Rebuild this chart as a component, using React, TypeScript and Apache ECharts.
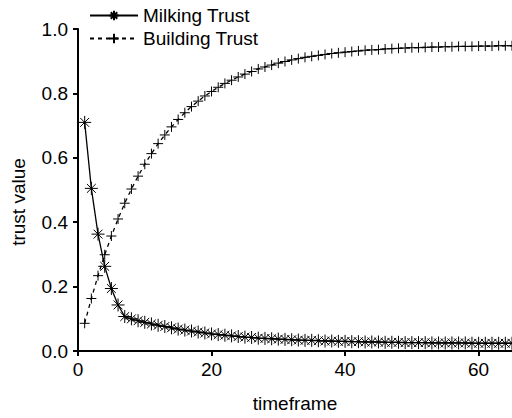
import React, { useEffect, useRef } from "react";
import * as echarts from "echarts";

const timeframe = [
  1, 2, 3, 4, 5, 6, 7, 8, 9, 10, 11, 12, 13, 14, 15, 16, 17, 18, 19, 20,
  21, 22, 23, 24, 25, 26, 27, 28, 29, 30, 31, 32, 33, 34, 35, 36, 37, 38, 39, 40,
  41, 42, 43, 44, 45, 46, 47, 48, 49, 50, 51, 52, 53, 54, 55, 56, 57, 58, 59, 60,
  61, 62, 63, 64, 65,
];

const milkingTrust = [
  0.71, 0.505, 0.363, 0.263, 0.194, 0.143, 0.107, 0.1, 0.094, 0.089,
  0.084, 0.08, 0.076, 0.072, 0.068, 0.065, 0.062, 0.059, 0.056, 0.053,
  0.051, 0.049, 0.047, 0.045, 0.043, 0.042, 0.04, 0.039, 0.038, 0.037,
  0.036, 0.035, 0.034, 0.033, 0.033, 0.032, 0.031, 0.031, 0.03, 0.03,
  0.029, 0.029, 0.028, 0.028, 0.028, 0.027, 0.027, 0.027, 0.026, 0.026,
  0.026, 0.026, 0.025, 0.025, 0.025, 0.025, 0.025, 0.025, 0.024, 0.024,
  0.024, 0.024, 0.024, 0.024, 0.024,
];

const buildingTrust = [
  0.086, 0.163, 0.234, 0.299, 0.357, 0.41, 0.459, 0.503, 0.543, 0.58,
  0.613, 0.644, 0.671, 0.696, 0.719, 0.74, 0.759, 0.776, 0.792, 0.806,
  0.819, 0.831, 0.841, 0.851, 0.86, 0.868, 0.876, 0.882, 0.888, 0.894,
  0.899, 0.904, 0.908, 0.912, 0.915, 0.918, 0.921, 0.924, 0.926, 0.928,
  0.93, 0.932, 0.934, 0.935, 0.936, 0.938, 0.939, 0.94, 0.941, 0.942,
  0.942, 0.943, 0.944, 0.944, 0.945, 0.945, 0.946, 0.946, 0.946, 0.947,
  0.947, 0.947, 0.948, 0.948, 0.948,
];

const seriesNames = ["Milking Trust", "Building Trust"];
const xTicks = [0, 20, 40, 60];
const yTicks = [0, 0.2, 0.4, 0.6, 0.8, 1.0];

const FONT = "'Liberation Sans', Arial, Helvetica, sans-serif";
const ASTERISK = "path://M5 0L5 10M0 5L10 5M1.6 1.6L8.4 8.4M8.4 1.6L1.6 8.4";
const PLUS = "path://M5 0L5 10M0 5L10 5";

export default function App() {
  const ref = useRef<HTMLDivElement>(null);
  useEffect(() => {
    if (!ref.current) return;
    const chart = echarts.init(ref.current, null, { renderer: "svg" });
    const pair = (vals: number[]) => timeframe.map((t, i) => [t, vals[i]]);
    chart.setOption({
      animation: false,
      backgroundColor: "#fff",
      textStyle: { fontFamily: FONT, color: "#000" },
      grid: { left: 78, top: 29, width: 436, height: 326, containLabel: false },
      legend: {
        orient: "vertical",
        left: 84,
        top: 1,
        itemWidth: 48,
        itemHeight: 12,
        itemGap: 4,
        textStyle: { fontSize: 19, color: "#000", fontFamily: FONT },
        data: seriesNames,
      },
      xAxis: {
        type: "value",
        min: xTicks[0],
        max: 65,
        interval: 20,
        name: "timeframe",
        nameLocation: "middle",
        nameGap: 43,
        nameTextStyle: { fontSize: 19, color: "#000", fontFamily: FONT },
        axisLine: { lineStyle: { color: "#000", width: 2 } },
        axisTick: { inside: false, length: 5, lineStyle: { color: "#000", width: 2 } },
        axisLabel: { fontSize: 19, color: "#000", margin: 9, showMaxLabel: false },
        splitLine: { show: false },
      },
      yAxis: {
        type: "value",
        min: yTicks[0],
        max: yTicks[yTicks.length - 1],
        interval: 0.2,
        name: "trust value",
        nameLocation: "middle",
        nameGap: 50,
        nameTextStyle: { fontSize: 19, color: "#000", fontFamily: FONT, padding: [0, 24, 0, 0] },
        axisLine: { show: true, lineStyle: { color: "#000", width: 2 } },
        axisTick: { show: true, inside: false, length: 5, lineStyle: { color: "#000", width: 2 } },
        axisLabel: {
          fontSize: 19,
          color: "#000",
          margin: 10,
          formatter: (v: number) => v.toFixed(1),
        },
        splitLine: { show: false },
      },
      series: [
        {
          name: seriesNames[0],
          type: "line",
          data: pair(milkingTrust),
          symbol: ASTERISK,
          symbolSize: 13,
          lineStyle: { color: "#000", width: 1.3, type: "solid" },
          itemStyle: { color: "rgba(0,0,0,0)", borderColor: "#000", borderWidth: 1 },
          emphasis: { disabled: true },
        },
        {
          name: seriesNames[1],
          type: "line",
          data: pair(buildingTrust),
          symbol: PLUS,
          symbolSize: 10,
          lineStyle: { color: "#000", width: 1.3, type: [4, 4] },
          itemStyle: { color: "rgba(0,0,0,0)", borderColor: "#000", borderWidth: 1 },
          emphasis: { disabled: true },
        },
      ],
    });
    return () => chart.dispose();
  }, []);
  return <div ref={ref} style={{ width: 512, height: 418, position: "absolute", left: 0, top: 0 }} />;
}
